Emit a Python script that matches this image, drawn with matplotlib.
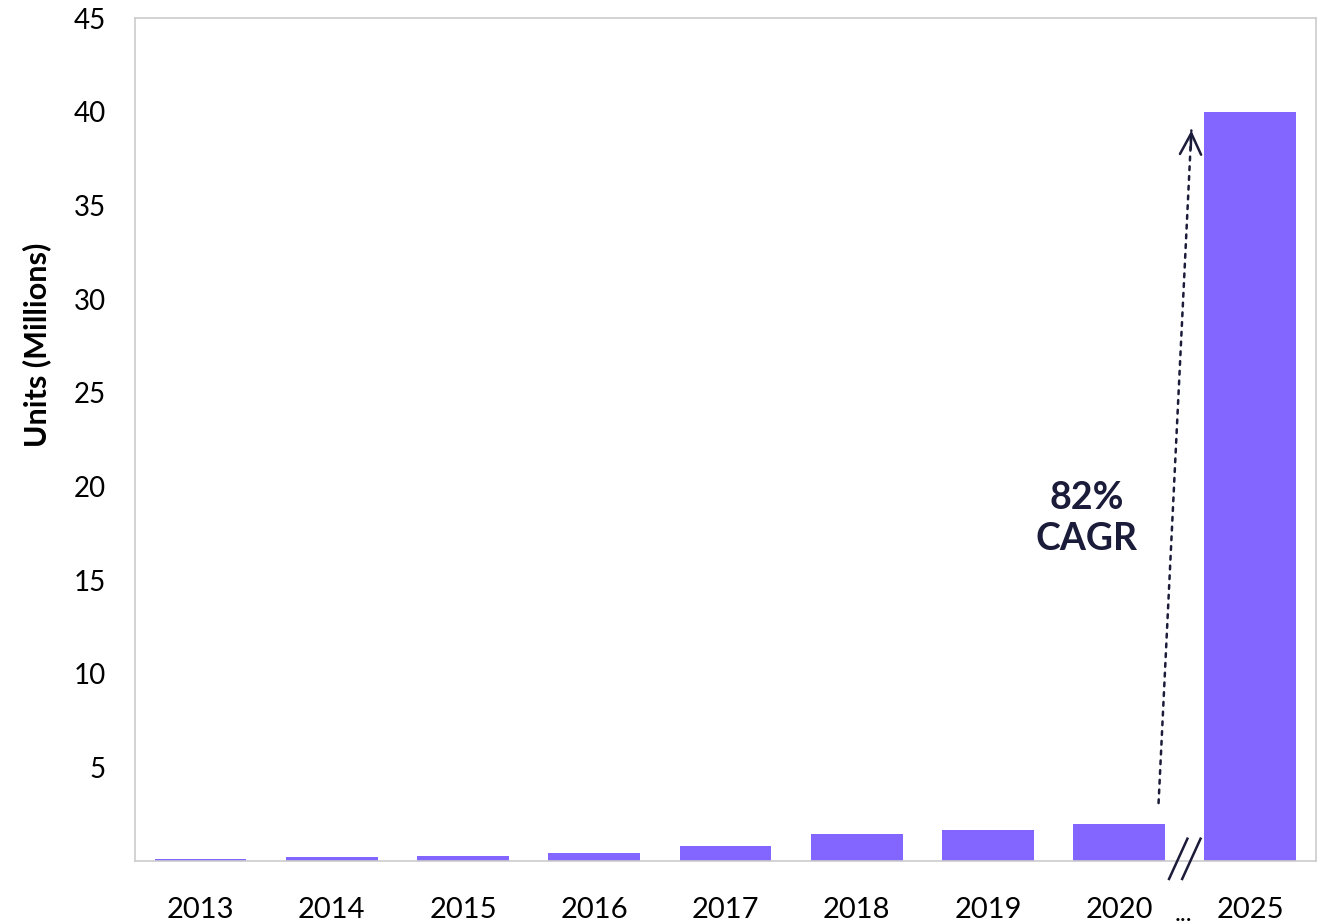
import numpy as np
import matplotlib.pyplot as plt

years = ["2013", "2014", "2015", "2016", "2017", "2018", "2019", "2020", "2025"]
units = [0.1, 0.2, 0.3, 0.45, 0.8, 1.45, 1.65, 2.0, 40.0]
y_ticks = [5, 10, 15, 20, 25, 30, 35, 40, 45]
cagr_label = "82%\nCAGR"

bar_color = "#8366FF"
navy = "#1B1B3A"
plt.rcParams["font.family"] = ["Lato", "DejaVu Sans"]

fig, ax = plt.subplots(figsize=(13.22, 9.24), dpi=100)
fig.subplots_adjust(left=0.102, right=0.9955, top=0.9805, bottom=0.068)

x = np.arange(len(years))
ax.bar(x, units, width=0.7, color=bar_color, zorder=2)

ax.set_xlim(-0.5, len(years) - 0.5)
ax.set_ylim(0, 45)
ax.set_yticks(y_ticks)
ax.set_yticklabels([str(t) for t in y_ticks], fontsize=20)
ax.set_xticks(x)
ax.set_xticklabels(years, fontsize=21)
ax.tick_params(axis="both", length=0, colors="black")
ax.tick_params(axis="y", pad=21)
ax.tick_params(axis="x", pad=26)
for sp in ax.spines.values():
    sp.set_color("#cccccc")
    sp.set_linewidth(1.2)

ax.set_ylabel("Units (Millions)", fontsize=22, fontweight="bold")
ax.yaxis.set_label_coords(-0.071, 0.613)

# dotted growth arrow from 2020 up to 2025 (dotted shaft, solid open head)
start, end = (7.30, 3.1), (7.55, 39.0)
ax.annotate("", xy=end, xytext=start,
            arrowprops=dict(arrowstyle="-", color=navy, lw=1.8,
                            linestyle=(0, (1.5, 2.4)),
                            shrinkA=0, shrinkB=0))
ax.annotate("", xy=end, xytext=(7.545, 38.0),
            arrowprops=dict(arrowstyle="->", color=navy, lw=1.8,
                            mutation_scale=38, shrinkA=0, shrinkB=0))
ax.text(6.75, 18.3, cagr_label, ha="center", va="center", fontsize=27,
        fontweight="bold", color=navy, linespacing=1.25)

# axis break marks between 2020 and 2025
for dx in (0.0, 0.1):
    ax.plot([7.38 + dx, 7.52 + dx], [-0.95, 1.2], color=navy, lw=1.8,
            clip_on=False, zorder=5)
ax.text(7.49, -0.062, "...", transform=ax.get_xaxis_transform(),
        ha="center", va="center", fontsize=18, color="black")

fig.savefig("out.png", dpi=100)
